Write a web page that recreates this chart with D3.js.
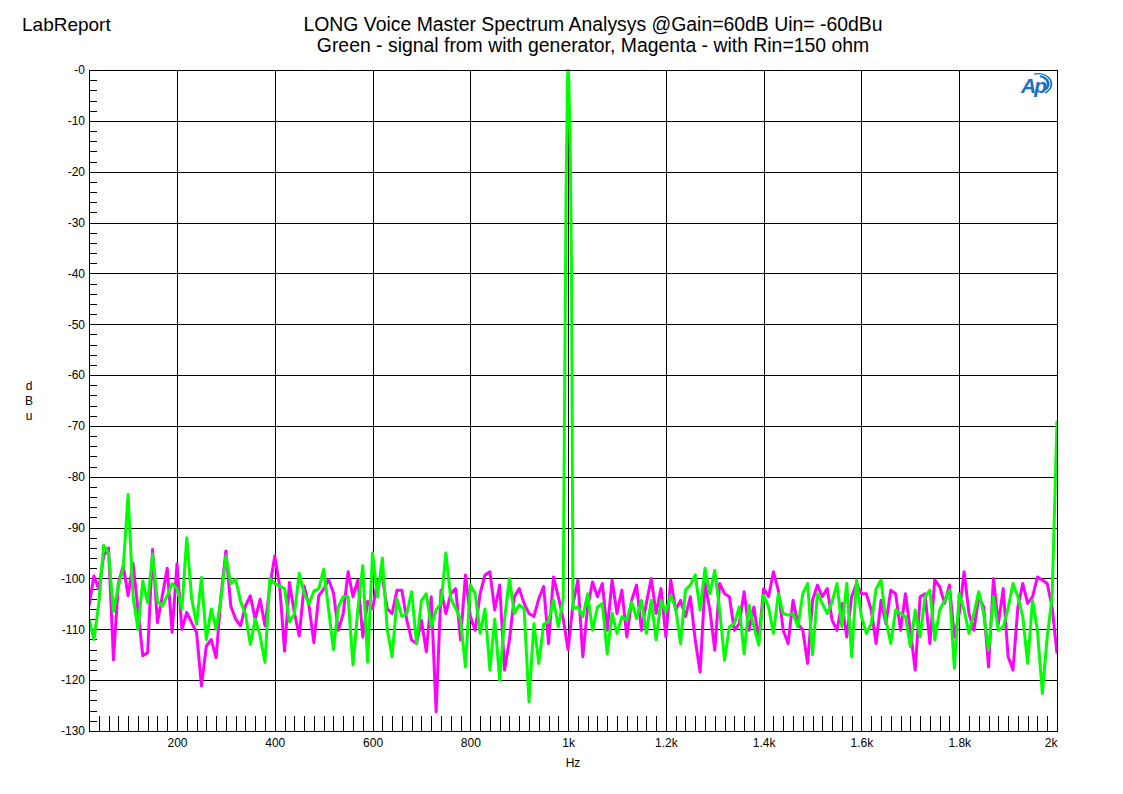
<!DOCTYPE html>
<html><head><meta charset="utf-8">
<script src="https://cdn.jsdelivr.net/npm/d3@7"></script>
<style>
body{margin:0;background:#fff;}
svg{display:block;}
text{font-family:"Liberation Sans",Arial,sans-serif;fill:#000;}
</style></head><body>
<svg id="chart" width="1123" height="794"></svg>
<script>
// ---------- data ----------
const titleLeft = "LabReport";
const titleLines = [
  "LONG Voice Master Spectrum Analysys @Gain=60dB Uin= -60dBu",
  "Green - signal from with generator, Magenta - with Rin=150 ohm"
];
const xLabel = "Hz";
const yLabelChars = ["d", "B", "u"];
const xDomain = [20, 2000];
const yDomain = [-130, 0];
const xTicks = [200, 400, 600, 800, 1000, 1200, 1400, 1600, 1800, 2000];
const xTickLabels = ["200", "400", "600", "800", "1k", "1.2k", "1.4k", "1.6k", "1.8k", "2k"];
const yTicks = [0, -10, -20, -30, -40, -50, -60, -70, -80, -90, -100, -110, -120, -130];
const yTickLabels = ["-0", "-10", "-20", "-30", "-40", "-50", "-60", "-70", "-80", "-90", "-100", "-110", "-120", "-130"];

// FFT bins every 10 Hz, 20 Hz .. 2000 Hz
const freqs = d3.range(20, 2001, 10);

const greenValues = [
  // 20..110
  -108, -112, -105, -93.5, -95, -106.5, -101.5, -98, -83.5, -103.4,
  // 120..210
  -110, -100.5, -104.8, -95.2, -104.5, -105.4, -103.4, -101, -102, -106,
  // 220..310
  -92, -104, -109, -99.8, -112, -106, -110, -104, -95.6, -101,
  // 320..410
  -100.2, -104.5, -107, -113, -108, -111.3, -116.5, -100, -101, -101.5,
  // 420..510
  -102, -108.5, -107, -99, -103, -105, -102.5, -102, -98.2, -106,
  // 520
  -114,
  // 530..620
  -105.6, -103.6, -103.6, -117, -106, -97.5, -116.5, -95, -103.6, -96,
  // 630..720
  -110, -115.4, -104, -107.5, -106.9, -102.6, -112.8, -104.3, -103, -109.5,
  // 730..820
  -106.2, -104.9, -95, -104, -105.9, -108, -117.4, -101.3, -103, -110.8,
  // 830..920
  -106, -118, -108, -120, -108, -100, -106.9, -105.2, -105.9, -124.3,
  // 930..990
  -108.9, -116.7, -109, -108.5, -104.3, -109.5, -104,
  // 1000
  0,
  // 1010..1100
  -106, -105.6, -107.5, -103, -110.2, -105.6, -104.9, -114.8, -106.9, -110.8,
  // 1110..1200
  -107.5, -108.2, -104.6, -107.9, -104.3, -110.8, -104.3, -112.1, -104.3, -106.6,
  // 1210..1300
  -103.3, -105.9, -112.8, -102.3, -101.3, -99.3, -106.2, -98, -103, -98.4,
  // 1310..1400
  -106.2, -116.1, -109.5, -108.9, -105.6, -114.8, -105.2, -109.5, -113.1, -103.3,
  // 1410..1500
  -105.6, -110.8, -103, -106.9, -107.2, -106.9, -109.5, -103, -101, -115,
  // 1510
  -103,
  // 1520..1610
  -104.9, -106.9, -104.6, -101, -109.5, -101, -115.4, -100.3, -107.5, -110.8,
  // 1620..1710
  -108.9, -102, -100.3, -108.2, -112.8, -106.2, -106.9, -107.5, -113.4, -106.2,
  // 1720..1810
  -111.5, -103.6, -102.3, -112.1, -106.2, -104.3, -102.3, -117.7, -103, -106.2,
  // 1820..1910
  -110.8, -106.9, -102.6, -106.9, -114.1, -103.6, -110.2, -109.5, -105.9, -101,
  // 1920..2000
  -103.6, -107.5, -116.7, -104.3, -110.2, -122.6, -111.5, -103.6, -69
];

const magentaValues = [
  // 20..110
  -105.4, -99.5, -102.1, -95.6, -94, -116, -101, -97.5, -103.4, -97,
  // 120..210
  -106, -115.2, -114.6, -94.3, -108.7, -103.4, -98, -110.6, -97.1, -110,
  // 220..310
  -106.7, -108.7, -110.6, -121.1, -113.3, -112, -115.6, -103.4, -94.6, -105.4,
  // 320..410
  -108, -109.3, -105.4, -103.4, -108, -104.1, -109.3, -101.5, -95.6, -101.5,
  // 420..510
  -114.3, -100.8, -106.7, -111.3, -101.5, -105.4, -112.6, -103.4, -102.1, -100.2,
  // 520
  -102.8,
  // 530..620
  -110.2, -106.9, -98.7, -103.6, -100.3, -111.5, -104.5, -106, -100.5, -99.7,
  // 630..720
  -106, -106.9, -102.3, -102.3, -108.2, -112.1, -112.8, -108.2, -114.4, -103.6,
  // 730..820
  -126.2, -102.3, -106.9, -103, -102, -112.1, -99.3, -107.5, -110.2, -103,
  // 830..920
  -99.3, -98.7, -106.2, -101.3, -118, -112.1, -103.6, -102, -104.9, -106.9,
  // 930..990
  -107.5, -104, -101.6, -112.8, -99.7, -103.6, -108,
  // 1000
  -114,
  // 1010..1100
  -105, -100.3, -115.4, -105.6, -100.7, -103.6, -101, -110.2, -100.3, -106.9,
  // 1110..1200
  -102.3, -111.5, -104.3, -101.3, -110.2, -104.9, -100, -106.9, -102, -111.5,
  // 1210..1300
  -100.3, -106.2, -104.3, -107.5, -103.6, -112.1, -118.4, -101, -106.2, -114.1,
  // 1310..1400
  -101, -103, -103.6, -110.2, -108.9, -102.6, -110.2, -105.6, -112.1, -102,
  // 1410..1500
  -103.6, -98.7, -102.3, -110.2, -112.8, -104.3, -108.9, -110.2, -116.7, -104.3,
  // 1510
  -101.3,
  // 1520..1610
  -103.6, -102, -108.2, -110.2, -104.9, -111.5, -103.6, -101, -103, -103,
  // 1620..1710
  -106.2, -112.8, -104.3, -108.9, -102.3, -103, -110.2, -103, -110.2, -118,
  // 1720..1810
  -103.6, -103, -112.8, -100.3, -101.6, -104.9, -101.3, -111.5, -106.9, -98.7,
  // 1820..1910
  -106.9, -110.2, -103.6, -105.6, -117.4, -100, -108.9, -102, -115.4, -118,
  // 1920..2000
  -105.6, -101, -104.9, -103.6, -99.7, -100.3, -101, -105.6, -114.8
];

// extra finely-resolved points around the 1 kHz tone (green trace only)
const spikeFreqs = [993, 996, 999, 1001, 1004, 1007];
const greenSpike = [-62, -22, -1, -1, -12, -40];

// ---------- chart ----------
const svg = d3.select("#chart");
const L = 89, R = 1057, T = 70, B = 731;
const W = R - L, H = B - T;

const x = d3.scaleLinear().domain(xDomain).range([L, R]);
const y = d3.scaleLinear().domain(yDomain).range([B, T]);

svg.append("rect").attr("width", 1123).attr("height", 794).attr("fill", "#fff");

// grid
const gridX = svg.append("g").attr("transform", `translate(0,${B})`)
  .call(d3.axisBottom(x).tickValues(xTicks.slice(0, -1)).tickSize(-H).tickFormat(""));
const gridY = svg.append("g").attr("transform", `translate(${L},0)`)
  .call(d3.axisLeft(y).tickValues(yTicks.slice(1, -1)).tickSize(-W).tickFormat(""));
[gridX, gridY].forEach(g => {
  g.select(".domain").remove();
  g.selectAll("line").attr("stroke", "#000").attr("stroke-width", 1).attr("shape-rendering", "crispEdges");
});

// minor ticks
const minorX = d3.range(40, 2000, 20).filter(v => v % 200 !== 0);
const minorY = d3.range(-128, 0, 2).filter(v => v % 10 !== 0);
const mx = svg.append("g").attr("transform", `translate(0,${B})`)
  .call(d3.axisBottom(x).tickValues(minorX).tickSize(-15).tickFormat(""));
const my = svg.append("g").attr("transform", `translate(${L},0)`)
  .call(d3.axisLeft(y).tickValues(minorY).tickSize(-8).tickFormat(""));
[mx, my].forEach(g => {
  g.select(".domain").remove();
  g.selectAll("line").attr("stroke", "#000").attr("stroke-width", 1).attr("shape-rendering", "crispEdges");
});

// traces
svg.append("defs").append("clipPath").attr("id", "plotClip")
  .append("rect").attr("x", L).attr("y", T - 1).attr("width", W).attr("height", H + 1);

const magentaData = freqs.map((f, i) => [f, magentaValues[i]]);
const greenData = freqs.map((f, i) => [f, greenValues[i]])
  .concat(spikeFreqs.map((f, i) => [f, greenSpike[i]]))
  .sort((a, b) => a[0] - b[0]);

const line = d3.line().x(d => x(d[0])).y(d => y(d[1]));
const traces = svg.append("g").attr("clip-path", "url(#plotClip)");
traces.append("path").datum(magentaData).attr("d", line)
  .attr("fill", "none").attr("stroke", "#ff00ff").attr("stroke-width", 3).attr("stroke-linejoin", "round");
traces.append("path").datum(greenData).attr("d", line)
  .attr("fill", "none").attr("stroke", "#00ff00").attr("stroke-width", 3).attr("stroke-linejoin", "round");

// frame
svg.append("rect").attr("x", L).attr("y", T).attr("width", W).attr("height", H)
  .attr("fill", "none").attr("stroke", "#000").attr("stroke-width", 1).attr("shape-rendering", "crispEdges");

// tick labels
const yAx = svg.append("g").attr("transform", `translate(${L},0)`)
  .call(d3.axisLeft(y).tickValues(yTicks).tickSize(0).tickPadding(4).tickFormat((d, i) => yTickLabels[i]));
yAx.select(".domain").remove();
yAx.selectAll("text").attr("font-size", 12).attr("font-family", "'Liberation Sans', Arial, sans-serif");

const xAx = svg.append("g").attr("transform", `translate(0,${B})`)
  .call(d3.axisBottom(x).tickValues(xTicks).tickSize(0).tickPadding(7).tickFormat((d, i) => xTickLabels[i]));
xAx.select(".domain").remove();
xAx.selectAll("text").attr("font-size", 12).attr("font-family", "'Liberation Sans', Arial, sans-serif");
xAx.selectAll(".tick").filter(d => d === xDomain[1]).select("text").attr("text-anchor", "end").attr("x", 0);

// axis titles
svg.append("text").attr("x", (L + R) / 2).attr("y", 767).attr("text-anchor", "middle")
  .attr("font-size", 12).text(xLabel);
svg.selectAll(".ylab").data(yLabelChars).enter().append("text")
  .attr("x", 29).attr("y", (d, i) => 390 + i * 15).attr("text-anchor", "middle")
  .attr("font-size", 12).text(d => d);

// titles
svg.append("text").attr("x", 22).attr("y", 31).attr("font-size", 19).text(titleLeft);
svg.selectAll(".title").data(titleLines).enter().append("text")
  .attr("x", 593).attr("y", (d, i) => 31 + i * 21).attr("text-anchor", "middle")
  .attr("font-size", 19.4).text(d => d);

// Ap logo
const logo = svg.append("g");
const blue = "#1a6fc0";
logo.append("text").attr("x", 1021).attr("y", 93).attr("font-size", 21)
  .attr("font-weight", "bold").attr("font-style", "italic")
  .style("fill", blue).attr("letter-spacing", -2).text("Ap");
const arc1 = d3.arc().innerRadius(11.5).outerRadius(13).startAngle(-0.3).endAngle(2.6);
const arc2 = d3.arc().innerRadius(8).outerRadius(10.5).startAngle(0.2).endAngle(2.4);
logo.append("path").attr("transform", "translate(1038,84) scale(1.1,0.85)").attr("d", arc1()).attr("fill", blue);
logo.append("path").attr("transform", "translate(1038,84) scale(1.1,0.85)").attr("d", arc2()).attr("fill", blue);
</script>
</body></html>
